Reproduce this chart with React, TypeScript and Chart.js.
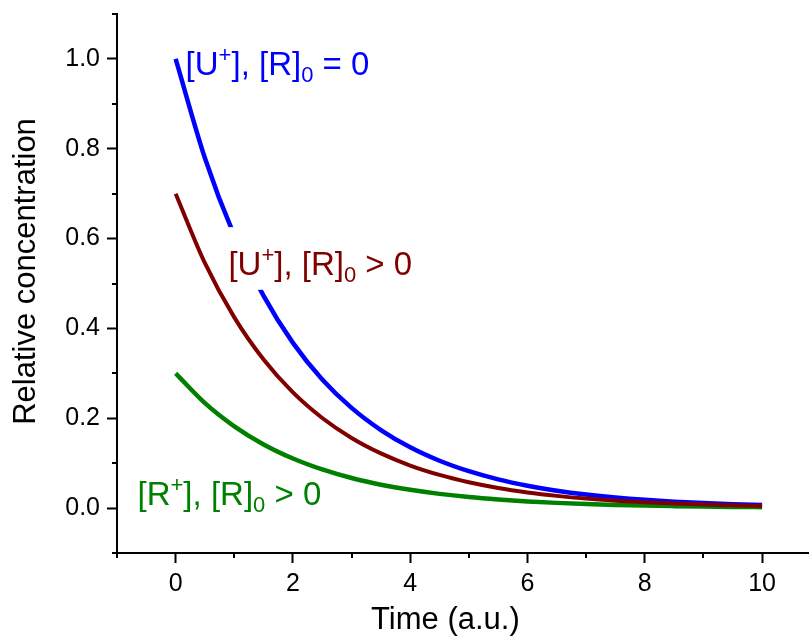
import React, { useEffect, useRef } from 'react';
import { Chart, registerables } from 'chart.js';

Chart.register(...registerables);

// ---------- data ----------
const timePoints = [0, 0.5, 1, 1.5, 2, 2.5, 3, 3.5, 4, 4.5, 5, 5.5, 6, 6.5, 7, 7.5, 8, 8.5, 9, 9.5, 10];
const uPlusNoR = [1.0, 0.7788, 0.6065, 0.4724, 0.3679, 0.2865, 0.2231, 0.1738, 0.1353, 0.1054, 0.0821, 0.0639, 0.0498, 0.0388, 0.0302, 0.0235, 0.0183, 0.0143, 0.0111, 0.0087, 0.0067];
const uPlusWithR = [0.70, 0.5452, 0.4246, 0.3307, 0.2575, 0.2006, 0.1562, 0.1217, 0.0947, 0.0738, 0.0575, 0.0447, 0.0349, 0.0272, 0.0211, 0.0165, 0.0128, 0.0100, 0.0078, 0.0061, 0.0047];
const rPlusWithR = [0.30, 0.2336, 0.1820, 0.1417, 0.1104, 0.0860, 0.0669, 0.0521, 0.0406, 0.0316, 0.0246, 0.0192, 0.0149, 0.0116, 0.0091, 0.0071, 0.0055, 0.0043, 0.0033, 0.0026, 0.0020];

const xMajorTicks = [0, 2, 4, 6, 8, 10];
const xTickLabels = ['0', '2', '4', '6', '8', '10'];
const xMinorTicks = [-1, 1, 3, 5, 7, 9];
const yMajorTicks = [0, 0.2, 0.4, 0.6, 0.8, 1.0];
const yTickLabels = ['0.0', '0.2', '0.4', '0.6', '0.8', '1.0'];
const yMinorTicks = [-0.1, 0.1, 0.3, 0.5, 0.7, 0.9, 1.1];

const xAxisTitle = 'Time (a.u.)';
const yAxisTitle = 'Relative concentration';

type Part = { text: string; mode: 'n' | 'sup' | 'sub' };
const labelBlue: Part[] = [
  { text: '[U', mode: 'n' }, { text: '+', mode: 'sup' }, { text: '], [R]', mode: 'n' }, { text: '0', mode: 'sub' }, { text: ' = 0', mode: 'n' },
];
const labelMaroon: Part[] = [
  { text: '[U', mode: 'n' }, { text: '+', mode: 'sup' }, { text: '], [R]', mode: 'n' }, { text: '0', mode: 'sub' }, { text: ' > 0', mode: 'n' },
];
const labelGreen: Part[] = [
  { text: '[R', mode: 'n' }, { text: '+', mode: 'sup' }, { text: '], [R]', mode: 'n' }, { text: '0', mode: 'sub' }, { text: ' > 0', mode: 'n' },
];

// ---------- styles ----------
const FONT = 'Arial, "Liberation Sans", Helvetica, sans-serif';
const BLUE = '#0000FF';
const MAROON = '#800000';
const GREEN = '#008000';

const annotations = [
  { parts: labelBlue, x: 0.17, y: 0.964, color: BLUE, bg: false },
  { parts: labelMaroon, x: 0.9, y: 0.519, color: MAROON, bg: true },
  { parts: labelGreen, x: -0.65, y: 0.007, color: GREEN, bg: false },
];

function drawRich(ctx: CanvasRenderingContext2D, parts: Part[], x: number, y: number, color: string, size: number, bg: boolean) {
  const small = Math.round(size * 0.68);
  const fontOf = (p: Part) => `${p.mode === 'n' ? size : small}px ${FONT}`;
  let w = 0;
  parts.forEach((p) => {
    ctx.font = fontOf(p);
    w += ctx.measureText(p.text).width;
  });
  if (bg) {
    ctx.fillStyle = '#ffffff';
    ctx.fillRect(x - 4, y - size * 1.45, w + 8, size * 1.9);
  }
  ctx.fillStyle = color;
  ctx.textBaseline = 'alphabetic';
  ctx.textAlign = 'left';
  let cx = x;
  parts.forEach((p) => {
    ctx.font = fontOf(p);
    const dy = p.mode === 'sup' ? -size * 0.4 : p.mode === 'sub' ? size * 0.2 : 0;
    ctx.fillText(p.text, cx, y + dy);
    cx += ctx.measureText(p.text).width;
  });
}

const overlayPlugin = {
  id: 'overlay',
  afterDatasetsDraw(chart: any) {
    const { ctx, scales } = chart;
    const xs = scales.x;
    const ys = scales.y;
    ctx.save();
    annotations.forEach((a) => {
      drawRich(ctx, a.parts, xs.getPixelForValue(a.x), ys.getPixelForValue(a.y), a.color, 33, a.bg);
    });
    ctx.restore();
  },
  afterDraw(chart: any) {
    const { ctx, scales, chartArea } = chart;
    const xs = scales.x;
    const ys = scales.y;
    ctx.save();
    ctx.strokeStyle = '#000';
    ctx.lineWidth = 2;
    xMinorTicks.forEach((v) => {
      const px = Math.round(xs.getPixelForValue(v));
      ctx.beginPath();
      ctx.moveTo(px, chartArea.bottom);
      ctx.lineTo(px, chartArea.bottom + 5);
      ctx.stroke();
    });
    yMinorTicks.forEach((v) => {
      const py = Math.round(ys.getPixelForValue(v));
      ctx.beginPath();
      ctx.moveTo(chartArea.left, py);
      ctx.lineTo(chartArea.left - 5, py);
      ctx.stroke();
    });
    // axis titles
    ctx.fillStyle = '#000';
    ctx.textAlign = 'center';
    ctx.textBaseline = 'alphabetic';
    ctx.font = `31px ${FONT}`;
    ctx.fillText(xAxisTitle, xs.getPixelForValue(4.6), chartArea.bottom + 76);
    ctx.save();
    ctx.translate(35, (chartArea.top + chartArea.bottom) / 2 - 12);
    ctx.rotate(-Math.PI / 2);
    ctx.font = `31px ${FONT}`;
    ctx.fillText(yAxisTitle, 0, 0);
    ctx.restore();
    ctx.restore();
  },
};

export default function App() {
  const ref = useRef<HTMLCanvasElement | null>(null);
  useEffect(() => {
    if (!ref.current) return;
    const mk = (label: string, data: number[], color: string, width: number, order: number) => ({
      label,
      data: timePoints.map((t, i) => ({ x: t, y: data[i] })),
      borderColor: color,
      backgroundColor: color,
      borderWidth: width,
      pointRadius: 0,
      fill: false,
      cubicInterpolationMode: 'monotone' as const,
      order,
    });
    const chart = new Chart(ref.current, {
      type: 'line',
      data: {
        datasets: [
          mk('[U+], [R]0 = 0', uPlusNoR, BLUE, 4.5, 2),
          mk('[U+], [R]0 > 0', uPlusWithR, MAROON, 4, 0),
          mk('[R+], [R]0 > 0', rPlusWithR, GREEN, 4.5, 1),
        ],
      },
      options: {
        animation: false,
        responsive: false,
        devicePixelRatio: 1,
        layout: { padding: { top: 14, right: 0, left: 0, bottom: 0 } },
        plugins: { legend: { display: false }, tooltip: { enabled: false } },
        scales: {
          x: {
            type: 'linear',
            min: -1,
            max: 10.8,
            afterBuildTicks: (s: any) => {
              s.ticks = xMajorTicks.map((v) => ({ value: v }));
            },
            afterFit: (s: any) => {
              s.height = 84;
              s.paddingLeft = 0;
              s.paddingRight = 0;
            },
            ticks: {
              autoSkip: false,
              maxRotation: 0,
              padding: 6,
              color: '#000',
              font: { family: FONT, size: 25 },
              callback: (v: any) => xTickLabels[xMajorTicks.indexOf(Number(v))] ?? '',
            },
            grid: { display: true, drawOnChartArea: false, drawTicks: true, tickLength: 10, tickWidth: 2, tickColor: '#000' },
            border: { display: true, color: '#000', width: 2 },
          },
          y: {
            type: 'linear',
            min: -0.1,
            max: 1.1,
            afterBuildTicks: (s: any) => {
              s.ticks = yMajorTicks.map((v) => ({ value: v }));
            },
            afterFit: (s: any) => {
              s.width = 117;
              s.paddingTop = 0;
              s.paddingBottom = 0;
            },
            ticks: {
              autoSkip: false,
              padding: 7,
              color: '#000',
              font: { family: FONT, size: 25 },
              callback: (v: any) => {
                const i = yMajorTicks.findIndex((t) => Math.abs(t - Number(v)) < 1e-6);
                return i >= 0 ? yTickLabels[i] : '';
              },
            },
            grid: { display: true, drawOnChartArea: false, drawTicks: true, tickLength: 10, tickWidth: 2, tickColor: '#000' },
            border: { display: true, color: '#000', width: 2 },
          },
        },
      },
      plugins: [overlayPlugin],
    });
    return () => chart.destroy();
  }, []);
  return (
    <div style={{ position: 'absolute', left: 0, top: 0, width: 809, height: 637, background: '#fff' }}>
      <canvas ref={ref} width={809} height={637} style={{ display: 'block', width: 809, height: 637 }} />
    </div>
  );
}
